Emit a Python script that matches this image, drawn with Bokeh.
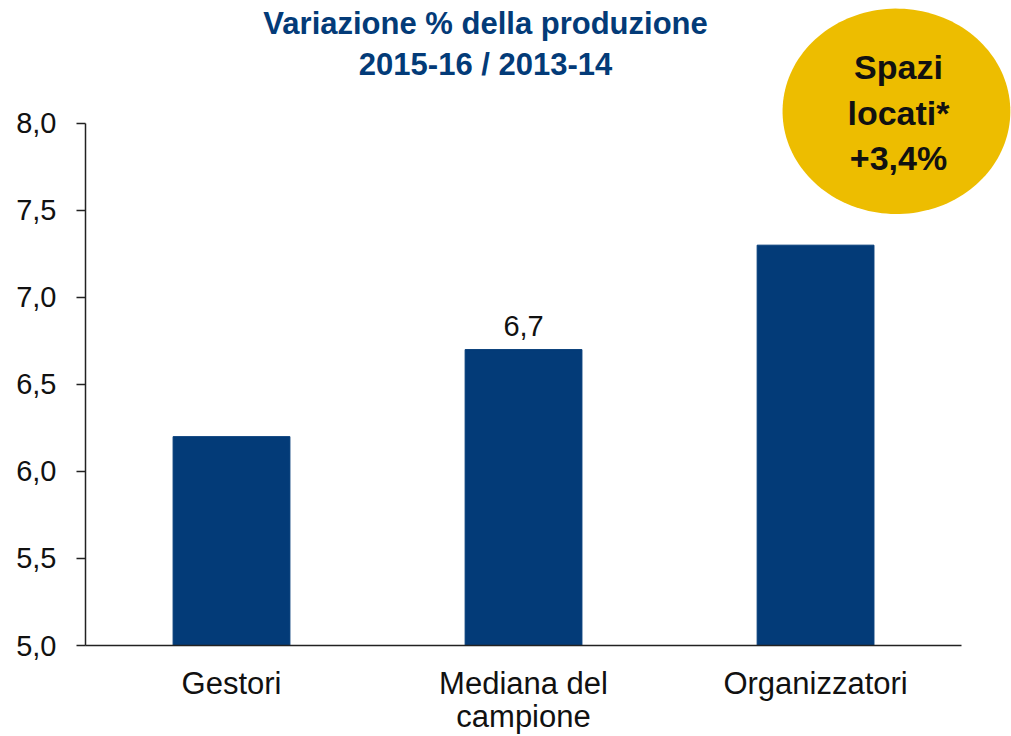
import numpy as np
from bokeh.plotting import figure
from bokeh.models import ColumnDataSource, CustomJSTickFormatter, Label, PolyAnnotation, FixedTicker
from bokeh.core.properties import value
from bokeh.embed import file_html
from bokeh.resources import INLINE

# ---- data ----
categories = ["Gestori", "Mediana del\ncampione", "Organizzatori"]
values = [6.2, 6.7, 7.3]
bar_labels = ["", "6,7", ""]
y_ticks = [5.0, 5.5, 6.0, 6.5, 7.0, 7.5, 8.0]
title_text = "Variazione % della produzione\n2015-16 / 2013-14"
badge_text = "Spazi\nlocati*\n+3,4%"

FONT = "Liberation Sans"
BLUE = "#033B78"
GOLD = "#EDBD00"

n = len(categories)
xpos = np.arange(n) + 0.5  # category slots

# frame spans to the top/right canvas edges so the title and badge are not clipped
p = figure(x_range=(0, 3.171), y_range=(5.0, 8.7056), width=1011, height=736,
           output_backend="svg", toolbar_location=None,
           min_border_left=85, min_border_right=0, min_border_top=0, min_border_bottom=90)
p.outline_line_color = None
p.grid.grid_line_color = None
p.background_fill_color = "white"

src = ColumnDataSource(dict(x=xpos, val=values, lab=bar_labels))
p.vbar(x="x", top="val", bottom=5.0, width=0.4, source=src, color=BLUE)
p.text(x="x", y="val", text="lab", source=src, text_align="center", text_baseline="alphabetic",
       y_offset=-24, text_font=value(FONT), text_font_size="29px", text_color="#111111")

# axes
yax = p.yaxis[0]
yax.bounds = (y_ticks[0], y_ticks[-1])
yax.ticker = FixedTicker(ticks=y_ticks)
yax.formatter = CustomJSTickFormatter(code="return tick.toFixed(1).replace('.', ',');")
yax.major_tick_out = 9
yax.major_tick_in = 0
yax.minor_tick_line_color = None
yax.major_label_standoff = 20
yax.major_label_text_font = FONT
yax.major_label_text_font_size = "29px"
yax.major_label_text_color = "#111111"
yax.axis_line_width = 1.5
yax.axis_line_color = "#222222"
yax.major_tick_line_width = 1.5
yax.major_tick_line_color = "#222222"

xax = p.xaxis[0]
xax.bounds = (0, n)
xax.ticker = FixedTicker(ticks=list(xpos))
xax.major_label_overrides = {float(x): c for x, c in zip(xpos, categories)}
xax.minor_tick_line_color = None
xax.major_tick_out = 0
xax.major_tick_in = 0
xax.major_label_standoff = 20
xax.major_label_text_font = FONT
xax.major_label_text_font_size = "31px"
xax.major_label_text_line_height = 0.95
xax.major_label_text_color = "#111111"
xax.axis_line_width = 1.5
xax.axis_line_color = "#222222"

# title
p.add_layout(Label(x=1.37, y=8.457, text=title_text, text_align="center", text_baseline="middle",
                   text_font=FONT, text_font_size="31px", text_font_style="bold",
                   text_color=BLUE, text_line_height=1.165))

# badge ellipse
t = np.linspace(0, 2 * np.pi, 160)
cx, cy, rx, ry = 2.777, 8.069, 0.78 / 2, 1.18 / 2
p.add_layout(PolyAnnotation(xs=list(cx + rx * np.cos(t)), ys=list(cy + ry * np.sin(t)),
                            fill_color=GOLD, fill_alpha=1.0, line_color=None))
p.add_layout(Label(x=2.784, y=8.06, text=badge_text, text_align="center", text_baseline="middle",
                   text_font=FONT, text_font_size="34px", text_font_style="bold",
                   text_color="#111111", text_line_height=1.2))

open("out.html", "w").write(file_html(p, INLINE))
